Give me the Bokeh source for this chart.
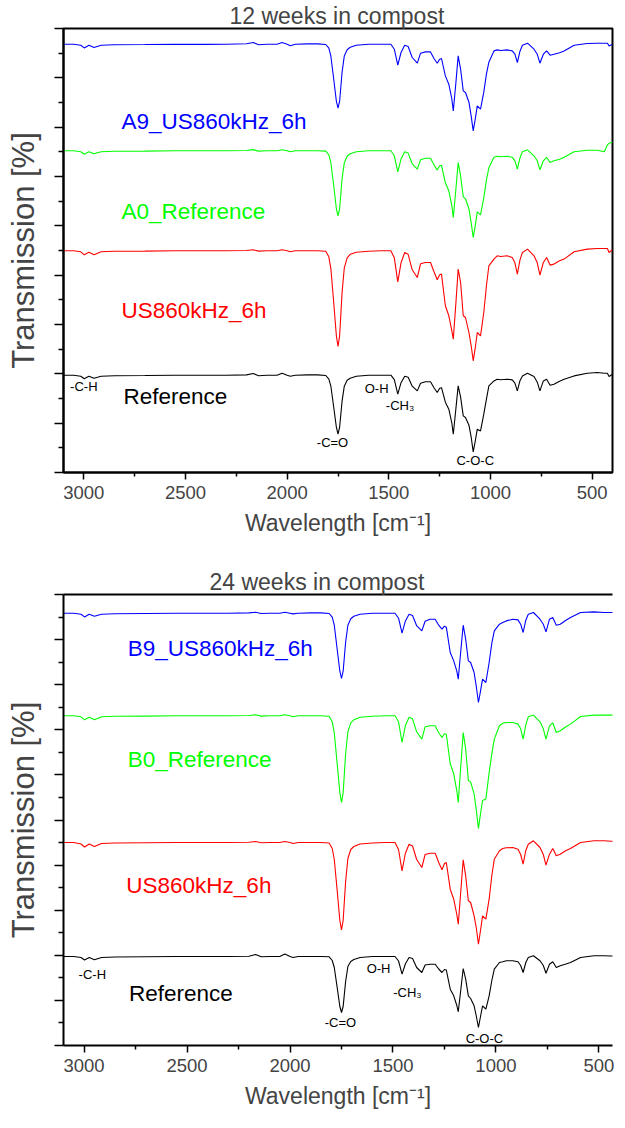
from bokeh.plotting import figure
from bokeh.models import FixedTicker, LinearAxis, Range1d, Label, Title
from bokeh.layouts import column
from bokeh.embed import file_html
from bokeh.resources import INLINE

# ---------------- data ----------------
wavenumber = [3100, 3050, 3015, 2998, 2975, 2950, 2915, 2850, 2700, 2550,
              2400, 2300, 2200, 2167, 2140, 2100, 2050, 2025, 2000, 1985,
              1960, 1900, 1850, 1810, 1795, 1785, 1771, 1758, 1750, 1742,
              1730, 1719, 1705, 1690, 1660, 1600, 1540, 1490, 1473, 1456,
              1440, 1422, 1405, 1385, 1360, 1344, 1320, 1295, 1278, 1262,
              1250, 1241, 1222, 1205, 1190, 1183, 1170, 1159, 1147, 1134,
              1123, 1106, 1095, 1085, 1075, 1065, 1049, 1033, 1020, 1008,
              983, 967, 950, 918, 893, 880, 868, 855, 843, 818,
              786, 770, 757, 740, 724, 707, 688, 660, 638, 589,
              524, 475, 440, 425, 417, 400]

# 12 weeks in compost (relative transmission, baseline = 100)
a9_us860_12 = [100, 100, 99, 96.3, 99, 96.7, 99, 99.5, 99.7, 100,
               99.8, 100, 100.5, 101.7, 99.5, 100, 100, 101.7, 100, 98.5,
               100, 100.3, 100.3, 99.7, 96, 88, 65, 43, 36, 43,
               72, 88.3, 94.5, 97, 99, 100, 100, 100, 95, 79,
               91.7, 99, 97.7, 86.7, 81, 91, 92.3, 92.3, 85.7, 81,
               85, 85.7, 68.3, 60, 45, 33.3, 62, 88.3, 75, 53.3,
               51.7, 42, 28, 13.3, 25, 38.3, 35, 52, 70, 82,
               93.3, 94.3, 93.7, 94.3, 93.3, 90, 81.7, 93, 99, 101,
               95, 90, 81, 90, 93.3, 89, 90, 91.5, 93.3, 99,
               100.7, 101, 101, 101, 98.3, 100]
a0_ref_12 = [100, 100, 99, 96.5, 99, 97, 99, 99.5, 99.7, 100,
             100, 100, 100.3, 101.2, 99.7, 100, 100, 101, 100, 99,
             100, 100, 100, 99.7, 96, 88, 65, 42, 35, 42,
             72, 88, 94.5, 97, 99, 100, 100, 100, 95, 79,
             91.7, 99, 97.7, 87, 81.7, 91, 92.5, 92.5, 86, 80.7,
             85, 85.5, 68, 60, 45, 33.3, 62, 88.3, 75, 54,
             52, 42, 28, 13.3, 25, 39, 36, 53, 71, 83,
             93.5, 94.5, 94, 94.5, 93.5, 90, 81.7, 93, 99, 101,
             95, 90, 81, 90, 93.5, 88.3, 90, 91.5, 93.5, 99,
             100.5, 100.5, 99, 106, 107.5, 108.5]
us860_12 = [100, 100, 99, 96, 98.5, 96, 99, 99.5, 99.7, 100,
            100, 100, 100.3, 101, 99.7, 100, 100, 101, 100, 99,
            100, 100, 100, 99.5, 94, 82, 48, 15, 4.3, 15,
            58, 83, 93, 96.5, 98.5, 99.5, 100, 100, 93, 69,
            88, 98.3, 96.5, 81, 73.3, 87, 88.3, 88.3, 79, 71,
            76, 76.7, 45, 35, 20, 11.7, 48.3, 81.7, 68.3, 35,
            33.3, 18.3, 5, -10, 3, 18.3, 15, 38.3, 65, 85,
            91.7, 95, 94.3, 95, 93.3, 88, 76.7, 91, 98.3, 101.7,
            95, 88, 75.7, 88.3, 93.3, 85.7, 86.7, 90, 91.7, 99,
            101.7, 102.3, 102.3, 102.3, 98.3, 101]
ref_12 = [100, 100, 99, 96.5, 99, 97, 99, 99.5, 99.7, 100,
          100, 100, 100.3, 101.7, 99.5, 100, 100, 102, 100, 99,
          100, 100.3, 100.3, 99.7, 96, 89, 68, 48, 41, 48,
          74, 89, 95, 97, 99, 100, 100, 100, 95.5, 81,
          92.5, 99, 98, 89, 84.3, 92, 93.5, 93.5, 87.5, 82.7,
          87, 87.5, 73, 66, 52, 41, 67, 89.3, 78, 59.3,
          57.7, 50, 38, 23.3, 34, 46, 44.3, 61, 76, 89.3,
          94.3, 96, 95.5, 96, 95.3, 92, 84.3, 94.5, 99.3, 102,
          98.7, 93, 84.3, 94.3, 96, 90, 91, 94, 96, 99.3,
          102, 102.7, 102, 102, 98.7, 101]

# 24 weeks in compost (relative transmission, baseline = 100)
b9_us860_24 = [100, 100, 99, 96.3, 99, 97, 99, 99.5, 99.7, 100,
               100, 100, 100.3, 101, 99.7, 100, 100, 101, 100, 99.3,
               100, 100.3, 100.3, 99.7, 96, 88, 64, 42, 34.7, 42,
               71, 88, 94.5, 97, 99, 100, 100, 100, 95, 80,
               92, 99, 97.7, 87.5, 82.3, 92, 94, 94, 88, 84,
               87, 86, 60.7, 52.3, 42, 34, 64, 88, 74, 52.3,
               50.7, 40.7, 26, 10.7, 22, 34, 30.7, 50.7, 70, 82.3,
               89, 90.7, 92.3, 94, 93.3, 89, 80.7, 93, 99, 100.7,
               94, 89, 81.3, 94, 95.7, 88, 89, 93, 95.7, 100.7,
               101.3, 100.7, 100.7, 100.7, 100.3, 100]
b0_ref_24 = [100, 100, 99, 96, 98.5, 96, 99, 99.5, 99.7, 100,
             100, 100, 100.3, 101, 99.7, 100, 100, 101, 100, 99,
             100, 100, 100, 99.5, 94, 83, 52, 23, 13.3, 23,
             62, 84, 93, 96, 98.5, 99.5, 100, 100, 94, 73.3,
             90, 98.5, 97, 84, 76.7, 89, 90, 90, 83, 78.3,
             82, 81.5, 52, 42, 25, 13.3, 52, 83.3, 67, 35.3,
             33.7, 22, 5, -12.7, 2, 15.3, 16.7, 43.3, 62, 76.7,
             90, 92.5, 93.3, 93.3, 91.7, 87, 76.7, 91, 99, 100.7,
             94, 87, 76.7, 90, 93, 83.3, 85, 89, 91.7, 99.3,
             100.7, 100.7, 100.7, 100.7, 100.7, 100]
us860_24 = [100, 100, 98.5, 95.5, 98.5, 96, 99, 99.5, 99.7, 100,
            100, 100, 100.3, 101, 99.7, 100, 100, 101, 100, 99,
            100, 100, 100, 99.5, 94, 83, 52, 22, 12.7, 22,
            61, 84, 93, 96, 98.5, 99.5, 100, 100, 93, 71.7,
            89, 98.3, 96.5, 83, 75, 88, 89.3, 89.3, 80, 72.7,
            79, 80, 53.3, 43.3, 28, 18.3, 53.3, 82.7, 66.7, 41.7,
            40, 26.7, 14, -1.7, 12, 26.7, 23.3, 43.3, 67, 83.3,
            91.7, 94, 94.7, 95, 93.3, 88, 78.3, 92, 98.3, 101.7,
            95, 88, 77.3, 88.3, 94, 86.7, 88.3, 92, 94, 100,
            101.7, 101.7, 101.3, 101.3, 101, 100]
ref_24 = [100, 100, 99, 96.5, 99, 96.7, 99, 99.5, 99.7, 100,
          100, 100, 100.3, 102, 99.7, 100, 100, 102.5, 100, 99,
          100, 100, 100, 99.7, 96, 89, 69, 50, 44, 50,
          75, 90, 95, 97, 99, 100, 100, 100, 95.5, 82.3,
          92.5, 99, 98, 89, 84, 91.5, 92.3, 92.3, 87.5, 84,
          87, 86.5, 67.3, 60.7, 51, 44.7, 68, 88, 77.3, 60.7,
          58, 50.7, 40, 29, 40, 50.7, 47.3, 60.7, 76, 87.3,
          94, 94.7, 95.7, 95.7, 94.7, 91, 84, 94, 99, 100.7,
          95.7, 91, 83.3, 92.3, 94.7, 89, 90.7, 92.5, 94, 99,
          100.7, 100.7, 100.5, 100.5, 100.5, 100]

series_names_12 = ["A9_US860kHz_6h", "A0_Reference", "US860kHz_6h", "Reference"]
series_names_24 = ["B9_US860kHz_6h", "B0_Reference", "US860kHz_6h", "Reference"]
series_colors = ["#0000FF", "#00FF00", "#FF0000", "#000000"]
stack_offsets_12 = [328.3, 221.7, 121.7, -2.7]
stack_offsets_24 = [332.3, 229.7, 103.0, -11.0]

x_major_ticks = [3000, 2500, 2000, 1500, 1000, 500]
x_minor_ticks = [2750, 2250, 1750, 1250, 750]

band_labels = ["-C-H", "O-H", "-CH\u2083", "-C=O", "C-O-C"]

FONT = "Liberation Sans"


def make_panel(title_text, curves, names, offsets, x_end, y_top, n_major,
               frame_left, frame_w, top_h, bottom_h, right_b, title_offset,
               name_pos, band_pos, outline):
    height = top_h + y_top + bottom_h
    width = frame_left + frame_w + right_b
    p = figure(width=width, height=height, output_backend="svg",
               toolbar_location=None,
               x_range=Range1d(3100, x_end), y_range=Range1d(0, y_top),
               min_border_left=frame_left, min_border_right=right_b,
               min_border_top=top_h, min_border_bottom=bottom_h,
               x_axis_type=None, y_axis_type=None)
    p.background_fill_color = "white"
    p.border_fill_color = "white"
    p.grid.visible = False
    if outline:
        p.outline_line_color = "black"
        p.outline_line_width = 2
    else:
        p.outline_line_color = None

    step = y_top / n_major
    y_major = [i * step for i in range(n_major + 1)]
    y_minor = [(i + 0.5) * step for i in range(n_major)]

    xa = LinearAxis(ticker=FixedTicker(ticks=x_major_ticks, minor_ticks=x_minor_ticks),
                    axis_label="Wavelength [cm\u207b\u00b9]")
    xa.axis_line_width = 2
    xa.major_tick_line_width = 1.5
    xa.minor_tick_line_width = 1.5
    xa.major_tick_in = 0
    xa.major_tick_out = 7
    xa.minor_tick_in = 0
    xa.minor_tick_out = 4
    xa.major_label_text_font = FONT
    xa.major_label_text_font_size = "18.5px"
    xa.major_label_standoff = 6
    xa.axis_label_text_font = FONT
    xa.axis_label_text_font_size = "23px"
    xa.axis_label_text_font_style = "normal"
    xa.axis_label_standoff = 8
    p.add_layout(xa, "below")

    ya = LinearAxis(ticker=FixedTicker(ticks=y_major, minor_ticks=y_minor),
                    axis_label="Transmission [%]")
    ya.axis_line_width = 2
    ya.major_tick_line_width = 1.5
    ya.minor_tick_line_width = 1.5
    ya.major_tick_in = 0
    ya.major_tick_out = 9
    ya.minor_tick_in = 0
    ya.minor_tick_out = 5
    ya.major_label_text_color = None
    ya.major_label_text_font_size = "0px"
    ya.major_label_standoff = 0
    ya.axis_label_text_font = FONT
    ya.axis_label_text_font_size = "31px"
    ya.axis_label_text_font_style = "normal"
    ya.axis_label_standoff = 14
    p.add_layout(ya, "left")

    if not outline:
        ta = LinearAxis(ticker=FixedTicker(ticks=[]))
        ta.axis_line_width = 2
        ta.major_tick_line_color = None
        ta.minor_tick_line_color = None
        ta.major_label_text_color = None
        p.add_layout(ta, "above")

    t = Title(text=title_text, align="left", text_font=FONT,
              text_font_size="23px", text_font_style="normal",
              standoff=0, offset=title_offset)
    p.add_layout(t, "above")

    for ys, off, col in zip(curves, offsets, series_colors):
        p.line(wavenumber, [v + off for v in ys], line_color=col, line_width=1.1)

    for (nx, ny), name, col in zip(name_pos, names, series_colors):
        p.add_layout(Label(x=nx, y=ny, text=name, text_color=col, text_font=FONT,
                           text_font_size="22.5px", text_align="left",
                           text_baseline="middle"))

    for (bx, by), txt in zip(band_pos, band_labels):
        p.add_layout(Label(x=bx, y=by, text=txt, text_color="black", text_font=FONT,
                           text_font_size="13px", text_align="center",
                           text_baseline="middle"))
    return p


p1 = make_panel("12 weeks in compost",
                [a9_us860_12, a0_ref_12, us860_12, ref_12],
                series_names_12, stack_offsets_12,
                x_end=400, y_top=444, n_major=9,
                frame_left=62, frame_w=550, top_h=28, bottom_h=94, right_b=5,
                title_offset=166,
                name_pos=[(2815, 351), (2815, 261), (2815, 162), (2805, 76)],
                band_pos=[(3000, 86), (1560, 84), (1445, 67), (1777, 30), (1075, 12)],
                outline=True)

p2 = make_panel("24 weeks in compost",
                [b9_us860_24, b0_ref_24, us860_24, ref_24],
                series_names_24, stack_offsets_24,
                x_end=434, y_top=451, n_major=10,
                frame_left=63, frame_w=554, top_h=28, bottom_h=67, right_b=0,
                title_offset=146,
                name_pos=[(2788, 397), (2788, 286), (2795, 160), (2782, 52)],
                band_pos=[(2960, 71), (1570, 77), (1430, 53), (1755, 23), (1056, 7)],
                outline=False)

layout = column(p1, p2, spacing=0)
open("out.html", "w").write(file_html(layout, INLINE))
